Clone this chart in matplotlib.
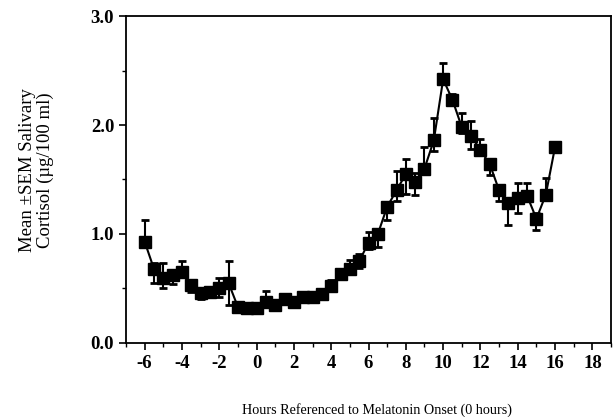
import numpy as np
import matplotlib
matplotlib.use('Agg')
import matplotlib.pyplot as plt
from matplotlib.ticker import MultipleLocator

plt.rcParams['font.family'] = ['Liberation Serif', 'DejaVu Serif']
plt.rcParams['axes.unicode_minus'] = False

hours = [-6, -5.5, -5, -4.5, -4, -3.5, -3, -2.5, -2, -1.5, -1, -0.5, 0, 0.5, 1, 1.5,
         2, 2.5, 3, 3.5, 4, 4.5, 5, 5.5, 6, 6.5, 7, 7.5, 8, 8.5, 9, 9.5, 10, 10.5,
         11, 11.5, 12, 12.5, 13, 13.5, 14, 14.5, 15, 15.5, 16]
cortisol = [0.93, 0.68, 0.60, 0.62, 0.65, 0.53, 0.46, 0.47, 0.50, 0.55, 0.33, 0.32,
            0.32, 0.38, 0.35, 0.40, 0.38, 0.42, 0.42, 0.45, 0.52, 0.63, 0.68, 0.75,
            0.92, 1.00, 1.25, 1.40, 1.55, 1.48, 1.60, 1.86, 2.42, 2.23, 1.98, 1.90,
            1.77, 1.64, 1.40, 1.28, 1.33, 1.35, 1.14, 1.36, 1.80]
sem_up = [0.20, 0.05, 0.13, 0.00, 0.10, 0.00, 0.00, 0.02, 0.10, 0.20, 0.00, 0.00,
          0.00, 0.10, 0.00, 0.02, 0.00, 0.03, 0.02, 0.00, 0.06, 0.05, 0.08, 0.07,
          0.10, 0.04, 0.03, 0.18, 0.14, 0.08, 0.20, 0.20, 0.15, 0.05, 0.13, 0.14,
          0.10, 0.05, 0.04, 0.00, 0.14, 0.12, 0.05, 0.15, 0.00]
sem_dn = [0.00, 0.13, 0.10, 0.08, 0.00, 0.06, 0.06, 0.00, 0.08, 0.20, 0.00, 0.00,
          0.00, 0.03, 0.00, 0.00, 0.02, 0.00, 0.00, 0.03, 0.03, 0.00, 0.00, 0.06,
          0.06, 0.12, 0.12, 0.10, 0.18, 0.12, 0.00, 0.10, 0.00, 0.00, 0.05, 0.12,
          0.00, 0.10, 0.10, 0.20, 0.14, 0.00, 0.10, 0.00, 0.00]

fig = plt.figure(figsize=(6.16, 4.17), dpi=100)
ax = fig.add_axes([0.2045, 0.1775, 0.7875, 0.7841])

ax.errorbar(hours, cortisol, yerr=[sem_dn, sem_up], fmt='s-', color='black',
            markersize=8.5, linewidth=1.5, elinewidth=1.5, capsize=3, capthick=2)

ax.set_xlim(-7, 19)
ax.set_ylim(0, 3.0)
ax.xaxis.set_major_locator(MultipleLocator(2))
ax.xaxis.set_minor_locator(MultipleLocator(1))
ax.yaxis.set_major_locator(MultipleLocator(1))
ax.yaxis.set_minor_locator(MultipleLocator(0.5))
ax.yaxis.set_major_formatter(plt.FormatStrFormatter('%.1f'))
ax.tick_params(which='major', length=5, width=1.2, labelsize=13.5)
ax.tick_params(which='minor', length=3, width=1)
for lab in ax.get_xticklabels() + ax.get_yticklabels():
    lab.set_fontweight('bold')
for s in ax.spines.values():
    s.set_linewidth(1.3)

ax.set_xlabel('Hours Referenced to Melatonin Onset (0 hours)', fontsize=10.2)
ax.set_ylabel('Mean \u00b1SEM Salivary\nCortisol (\u00b5g/100 ml)', fontsize=13.5,
              linespacing=1.1)
ax.xaxis.set_label_coords(0.518, -0.183)
ax.yaxis.set_label_coords(-0.148, 0.529)

fig.savefig('out.png', dpi=100)
